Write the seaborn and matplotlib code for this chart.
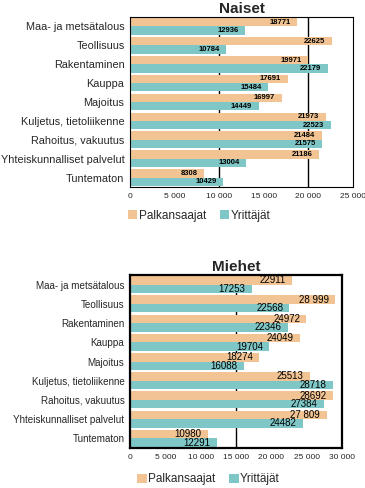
import numpy as np
import pandas as pd
import seaborn as sns
import matplotlib.pyplot as plt
from matplotlib.ticker import FuncFormatter, MultipleLocator

categories = ["Maa- ja metsätalous", "Teollisuus", "Rakentaminen", "Kauppa",
              "Majoitus", "Kuljetus, tietoliikenne", "Rahoitus, vakuutus",
              "Yhteiskunnalliset palvelut", "Tuntematon"]
series = ["Palkansaajat", "Yrittäjät"]

naiset_palk = [18771, 22625, 19971, 17691, 16997, 21973, 21484, 21186, 8308]
naiset_yritt = [12936, 10784, 22179, 15484, 14449, 22523, 21575, 13004, 10429]
miehet_palk = [22911, 28999, 24972, 24049, 18274, 25513, 28692, 27809, 10980]
miehet_yritt = [17253, 22568, 22346, 19704, 16088, 28718, 27384, 24482, 12291]

# labels as printed on the bars
naiset_palk_lbl = ["18771", "22625", "19971", "17691", "16997", "21973", "21484", "21186", "8308"]
naiset_yritt_lbl = ["12936", "10784", "22179", "15484", "14449", "22523", "21575", "13004", "10429"]
miehet_palk_lbl = ["22911", "28 999", "24972", "24049", "18274", "25513", "28692", "27 809", "10980"]
miehet_yritt_lbl = ["17253", "22568", "22346", "19704", "16088", "28718", "27384", "24482", "12291"]

colors = {"Palkansaajat": "#F2C493", "Yrittäjät": "#7FC7C7"}

sns.set_theme(style="white")
plt.rcParams['font.family'] = ['Liberation Sans', 'DejaVu Sans']


def long_df(palk, yritt):
    return pd.DataFrame({
        "ala": categories * 2,
        "sarja": [series[0]] * len(categories) + [series[1]] * len(categories),
        "arvo": palk + yritt,
    })


def thousands(x, pos):
    return f"{int(x):,}".replace(",", " ")


def draw(ax, palk, yritt, plbl, ylbl, title, xmax, grid_step, lw,
         lab_fs, cat_fs, bold, leg_x, leg_y):
    df = long_df(palk, yritt)
    sns.barplot(data=df, x="arvo", y="ala", hue="sarja", orient="h",
                palette=colors, width=0.88, saturation=1, ax=ax,
                legend=True, linewidth=0)
    ax.set_xlim(0, xmax)
    ax.xaxis.set_major_locator(MultipleLocator(5000))
    ax.xaxis.set_major_formatter(FuncFormatter(thousands))
    for g in np.arange(grid_step, xmax, grid_step):
        ax.axvline(g, color="black", lw=1.0, zorder=0)
    ax.set_xlabel("")
    ax.set_ylabel("")
    ax.set_title(title, fontsize=11, fontweight="bold", pad=3)
    ax.tick_params(axis="x", labelsize=6, length=0, pad=4)
    ax.tick_params(axis="y", labelsize=cat_fs, length=0, pad=4)
    for s in ax.spines.values():
        s.set_color("black")
        s.set_linewidth(lw)
    # value labels at the bar ends
    for cont, vals, lbls in zip(ax.containers, [palk, yritt], [plbl, ylbl]):
        for bar, v, t in zip(cont, vals, lbls):
            yc = bar.get_y() + bar.get_height() / 2
            ax.text(v - xmax * 0.03, yc, t, ha="right", va="center",
                    fontsize=lab_fs, fontweight=bold, color="black")
    ax.legend(loc="center", bbox_to_anchor=(leg_x, leg_y), ncol=2,
              frameon=False, fontsize=8.5, handlelength=0.8, handleheight=0.8,
              handletextpad=0.1, columnspacing=1.2, borderpad=0)


fig = plt.figure(figsize=(3.65, 4.88), dpi=100)
ax1 = fig.add_axes([130 / 365, 1 - 187 / 488, 223 / 365, 170 / 488])
ax2 = fig.add_axes([130 / 365, 1 - 448 / 488, 212 / 365, 173 / 488])

draw(ax1, naiset_palk, naiset_yritt, naiset_palk_lbl, naiset_yritt_lbl,
     "Naiset", 25000, 10000, 0.8, 5.5, 7.8, "bold", 0.31, -0.17)
draw(ax2, miehet_palk, miehet_yritt, miehet_palk_lbl, miehet_yritt_lbl,
     "Miehet", 30000, 15000, 1.6, 7, 7.1, "normal", 0.37, -0.18)

fig.savefig("out.png", dpi=100)
